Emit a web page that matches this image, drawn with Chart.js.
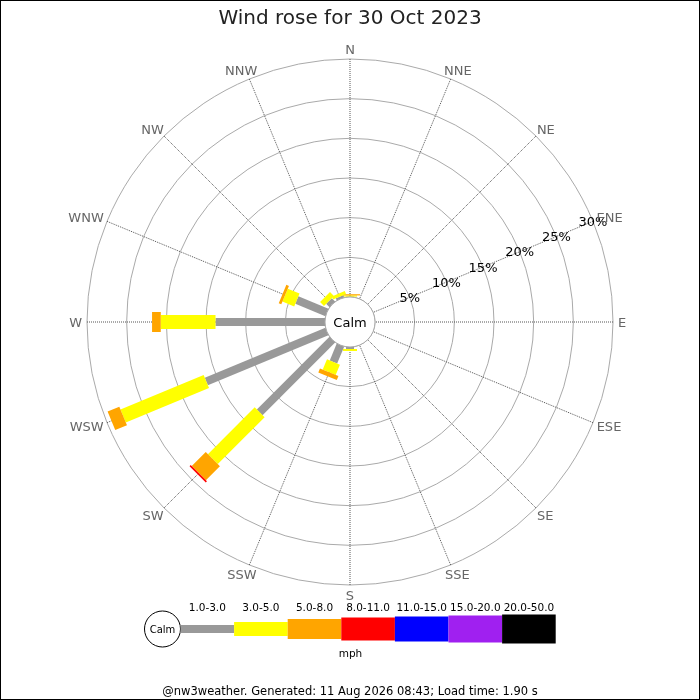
<!DOCTYPE html>
<html>
<head>
<meta charset="utf-8">
<title>Wind rose for 30 Oct 2023</title>
<script src="https://cdn.jsdelivr.net/npm/chart.js@4.4.1/dist/chart.umd.min.js"></script>
<style>
  html, body { margin: 0; padding: 0; background: #fff; }
  #rosa { display: block; }
</style>
</head>
<body>
<canvas id="rosa" width="700" height="700"></canvas>
<script>
// Datos de la rosa de vientos (% del tiempo por dirección y rango de velocidad)
const direcciones = ["N","NNE","NE","ENE","E","ESE","SE","SSE","S","SSW","SW","WSW","W","WNW","NW","NNW"];
const rangos = ["1.0-3.0","3.0-5.0","5.0-8.0","8.0-11.0","11.0-15.0","15.0-20.0","20.0-50.0"];

const v1a3   = [0.05, 0, 0, 0, 0, 0, 0, 0, 0.25, 2.3, 12.95, 16.45, 13.8, 4.1, 0.6, 0.3];
const v3a5   = [0.15, 0, 0, 0, 0, 0, 0, 0, 0.25, 1.4, 8.35, 11.35, 6.9, 1.6, 0.7, 0.4];
const v5a8   = [0.15, 0, 0, 0, 0, 0, 0, 0, 0, 0.55, 2.5, 1.6, 1.1, 0.35, 0, 0];
const v8a11  = [0, 0, 0, 0, 0, 0, 0, 0, 0, 0, 0.2, 0, 0, 0, 0, 0];
const v11a15 = [0, 0, 0, 0, 0, 0, 0, 0, 0, 0, 0, 0, 0, 0, 0, 0];
const v15a20 = [0, 0, 0, 0, 0, 0, 0, 0, 0, 0, 0, 0, 0, 0, 0, 0];
const v20a50 = [0, 0, 0, 0, 0, 0, 0, 0, 0, 0, 0, 0, 0, 0, 0, 0];

const marcas = [0, 5, 10, 15, 20, 25, 30];

const titulo = "Wind rose for 30 Oct 2023";
const pie = "@nw3weather. Generated: 11 Aug 2026 08:43; Load time: 1.90 s";
const unidad = "mph";

// Estilos
const colores = ["#999999","#ffff00","#ffa500","#ff0000","#0000ff","#a020f0","#000000"];
const anchos = [8, 14, 20, 23, 25, 27, 29];
const fuente = '"DejaVu Sans", "Liberation Sans", sans-serif';
const radioCalma = 25;

function texto(ctx, str, x, y, tam, color, alinear) {
  ctx.font = `${tam}px ${fuente}`;
  ctx.fillStyle = color;
  ctx.textAlign = alinear || "center";
  ctx.textBaseline = "alphabetic";
  ctx.fillText(str, x, y + tam * 0.365);
}

const rosaPlugin = {
  id: "rosa",
  beforeDraw(chart) {
    const ctx = chart.ctx;
    ctx.save();
    ctx.fillStyle = "#fff";
    ctx.fillRect(0, 0, chart.width, chart.height);
    ctx.restore();
  },
  afterDatasetsDraw(chart) {
    const r = chart.scales.r;
    const ctx = chart.ctx;
    ctx.save();

    // Barras apiladas por dirección
    ctx.lineCap = "butt";
    direcciones.forEach((d, i) => {
      let acumulado = 0;
      chart.data.datasets.forEach((ds, k) => {
        const v = ds.data[i];
        if (!v) return;
        const p1 = r.getPointPosition(i, r.getDistanceFromCenterForValue(acumulado));
        acumulado += v;
        const p2 = r.getPointPosition(i, r.getDistanceFromCenterForValue(acumulado));
        ctx.strokeStyle = colores[k];
        ctx.lineWidth = anchos[k];
        ctx.beginPath();
        ctx.moveTo(p1.x, p1.y);
        ctx.lineTo(p2.x, p2.y);
        ctx.stroke();
      });
    });

    // Círculo de calma
    const rc = r.getDistanceFromCenterForValue(0);
    ctx.beginPath();
    ctx.arc(r.xCenter, r.yCenter, rc, 0, Math.PI * 2);
    ctx.fillStyle = "#fff";
    ctx.fill();
    ctx.lineWidth = 1;
    ctx.strokeStyle = "#aaa";
    ctx.stroke();
    texto(ctx, "Calm", r.xCenter, r.yCenter, 13, "#000");

    // Etiquetas de porcentaje sobre el eje ENE
    const iEje = direcciones.indexOf("ENE");
    marcas.slice(1).forEach(m => {
      const p = r.getPointPosition(iEje, r.getDistanceFromCenterForValue(m));
      texto(ctx, m + "%", p.x, p.y, 13, "#000");
    });

    // Etiquetas de dirección
    const exterior = r.getDistanceFromCenterForValue(r.max);
    ctx.font = `13px ${fuente}`;
    direcciones.forEach((d, i) => {
      const a = r.getIndexAngle(i);
      const w = ctx.measureText(d).width;
      const p = r.getPointPosition(i, exterior + 5);
      const x = p.x + (w / 2) * Math.sin(a);
      const y = p.y - 5 * Math.cos(a);
      texto(ctx, d, x, y, 13, "#666");
    });
    ctx.restore();
  },
  afterDraw(chart) {
    const ctx = chart.ctx;
    ctx.save();

    // Leyenda de velocidades
    const cy = 629;
    ctx.beginPath();
    ctx.arc(162.5, cy, 18, 0, Math.PI * 2);
    ctx.fillStyle = "#fff";
    ctx.fill();
    ctx.strokeStyle = "#000";
    ctx.lineWidth = 1;
    ctx.stroke();
    texto(ctx, "Calm", 162.5, cy, 10, "#000");

    const x0 = 180.5, paso = 53.6;
    rangos.forEach((rg, k) => {
      const x = x0 + k * paso;
      ctx.fillStyle = colores[k];
      ctx.fillRect(x, cy - anchos[k] / 2, paso, anchos[k]);
      texto(ctx, rg, x + paso / 2, 607, 10.5, "#000");
    });
    texto(ctx, unidad, 350.5, 653, 10.5, "#000");

    // Marco
    ctx.strokeStyle = "#000";
    ctx.lineWidth = 1;
    ctx.strokeRect(0.5, 0.5, chart.width - 1, chart.height - 1);
    ctx.restore();
  }
};

// Inicialización
const maximo = marcas[marcas.length - 1];
const minimo = -maximo * radioCalma / (263 - radioCalma);

new Chart(document.getElementById("rosa"), {
  type: "radar",
  data: {
    labels: direcciones,
    datasets: [v1a3, v3a5, v5a8, v8a11, v11a15, v15a20, v20a50].map((datos, k) => ({
      label: rangos[k],
      data: datos,
      fill: false,
      showLine: false,
      pointRadius: 0,
      pointHoverRadius: 0,
      pointHitRadius: 0,
      borderColor: colores[k],
      backgroundColor: "rgba(0,0,0,0)"
    }))
  },
  options: {
    responsive: false,
    animation: false,
    layout: { padding: { left: 87, right: 87, top: 0, bottom: 0 } },
    scales: {
      r: {
        min: minimo,
        max: maximo,
        afterBuildTicks: (scale) => { scale.ticks = marcas.map(v => ({ value: v })); },
        ticks: { display: false },
        pointLabels: { display: false },
        grid: { circular: true, color: "#aaa", lineWidth: 1 },
        angleLines: { color: "#555", lineWidth: 1, borderDash: [1, 1] }
      }
    },
    plugins: {
      legend: { display: false },
      tooltip: { enabled: false },
      title: {
        display: true,
        text: titulo,
        color: "#222",
        font: { family: fuente, size: 20, weight: "normal" },
        padding: { top: 6.7, bottom: 28.3 }
      },
      subtitle: {
        display: true,
        position: "bottom",
        text: pie,
        color: "#000",
        font: { family: fuente, size: 11.5, weight: "normal" },
        padding: { top: 100.2, bottom: 1 }
      }
    }
  },
  plugins: [rosaPlugin]
});
</script>
</body>
</html>
